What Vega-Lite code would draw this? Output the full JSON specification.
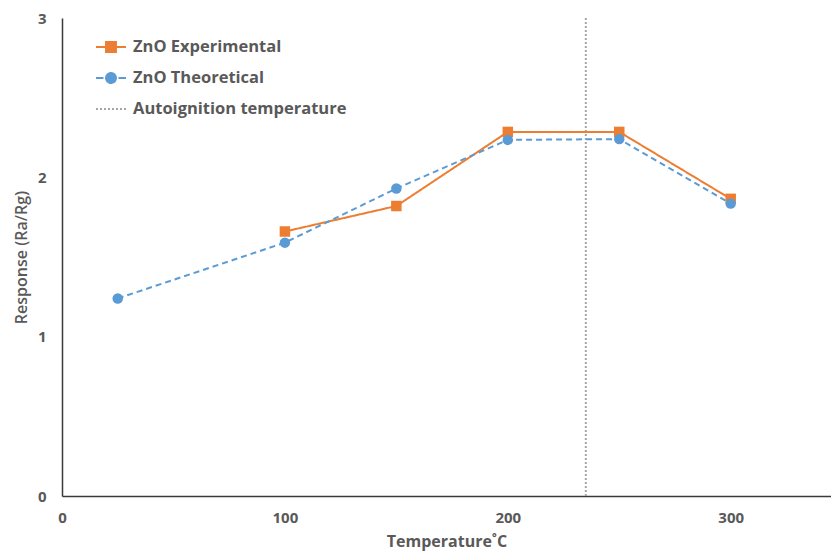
{
  "$schema": "https://vega.github.io/schema/vega-lite/v6.json",
  "width": 769,
  "height": 478,
  "autosize": "none",
  "padding": {"left": 62, "top": 18, "right": 0, "bottom": 55},
  "background": "white",
  "config": {"view": {"stroke": null}, "font": "Open Sans"},
  "datasets": {
    "series": [
      {"series": "ZnO Experimental", "temp": 100, "response": 1.66},
      {"series": "ZnO Experimental", "temp": 150, "response": 1.82},
      {"series": "ZnO Experimental", "temp": 200, "response": 2.285},
      {"series": "ZnO Experimental", "temp": 250, "response": 2.285},
      {"series": "ZnO Experimental", "temp": 300, "response": 1.865},
      {"series": "ZnO Theoretical", "temp": 25, "response": 1.24},
      {"series": "ZnO Theoretical", "temp": 100, "response": 1.59},
      {"series": "ZnO Theoretical", "temp": 150, "response": 1.93},
      {"series": "ZnO Theoretical", "temp": 200, "response": 2.235},
      {"series": "ZnO Theoretical", "temp": 250, "response": 2.24},
      {"series": "ZnO Theoretical", "temp": 300, "response": 1.835}
    ],
    "ignition": [{"series": "Autoignition temperature", "temp": 235}]
  },
  "layer": [
    {
      "data": {"name": "ignition"},
      "mark": {"type": "rule", "strokeDash": [2, 2], "strokeWidth": 2},
      "encoding": {
        "x": {"field": "temp", "type": "quantitative", "scale": {"domain": [0, 345]}},
        "color": {"field": "series", "type": "nominal"}
      }
    },
    {
      "data": {"name": "series"},
      "mark": {"type": "line", "strokeWidth": 2},
      "encoding": {
        "x": {
          "field": "temp", "type": "quantitative",
          "scale": {"domain": [0, 345], "nice": false},
          "axis": {
            "values": [0, 100, 200, 300], "ticks": false, "grid": false,
            "domainColor": "#3a3a3a", "domainWidth": 1.5,
            "labelFlush": false, "labelFontSize": 15, "labelFontWeight": "bold",
            "labelColor": "#595959", "labelPadding": 14,
            "title": "Temperature˚C", "titleFontSize": 16, "titleFontWeight": "bold",
            "titleColor": "#595959", "titlePadding": 8
          }
        },
        "y": {
          "field": "response", "type": "quantitative",
          "scale": {"domain": [0, 3], "nice": false},
          "axis": {
            "values": [0, 1, 2, 3], "format": "d", "ticks": false, "grid": false,
            "domainColor": "#3a3a3a", "domainWidth": 1.5,
            "labelFontSize": 15, "labelFontWeight": "bold",
            "labelColor": "#595959", "labelPadding": 16,
            "title": "Response (Ra/Rg)", "titleFontSize": 16, "titleFontWeight": 600,
            "titleColor": "#595959", "titlePadding": 8
          }
        },
        "color": {
          "field": "series", "type": "nominal",
          "scale": {
            "domain": ["ZnO Experimental", "ZnO Theoretical", "Autoignition temperature"],
            "range": ["#ED7D31", "#5B9BD5", "#A5A5A5"]
          },
          "legend": {
            "title": null,
            "orient": "none",
            "legendX": 33,
            "legendY": 13,
            "symbolSize": 900,
            "labelOffset": 6,
            "rowPadding": 6,
            "labelLimit": 400,
            "labelFont": "Open Sans",
            "labelFontSize": 16.5,
            "labelFontWeight": "bold",
            "labelColor": "#595959",
            "encode": {
              "symbols": {
                "update": {
                  "shape": {"signal": "datum.value === 'ZnO Experimental' ? 'M-1,0H1M-0.33,-0.33H0.33V0.33H-0.33Z' : datum.value === 'ZnO Theoretical' ? 'M-1,0H-0.5M0.5,0H1M0.33,0A0.33,0.33 0 1,1 -0.33,0A0.33,0.33 0 1,1 0.33,0Z' : 'M-1,0H1'"},
                  "strokeDash": {"signal": "datum.value === 'Autoignition temperature' ? [2,2] : [1,0]"},
                  "fill": {"scale": "color", "field": "value"},
                  "stroke": {"scale": "color", "field": "value"},
                  "strokeWidth": {"value": 2},
                  "opacity": {"value": 1},
                  "fillOpacity": {"value": 1},
                  "strokeOpacity": {"value": 1}
                }
              }
            }
          }
        },
        "strokeDash": {
          "field": "series", "type": "nominal",
          "scale": {"domain": ["ZnO Experimental", "ZnO Theoretical"], "range": [[1, 0], [6, 4]]},
          "legend": null
        }
      }
    },
    {
      "data": {"name": "series"},
      "mark": {"type": "point", "filled": true, "opacity": 1, "size": 110},
      "encoding": {
        "x": {"field": "temp", "type": "quantitative"},
        "y": {"field": "response", "type": "quantitative"},
        "color": {"field": "series", "type": "nominal"},
        "shape": {
          "field": "series", "type": "nominal",
          "scale": {"domain": ["ZnO Experimental", "ZnO Theoretical"], "range": ["square", "circle"]},
          "legend": null
        }
      }
    }
  ]
}
